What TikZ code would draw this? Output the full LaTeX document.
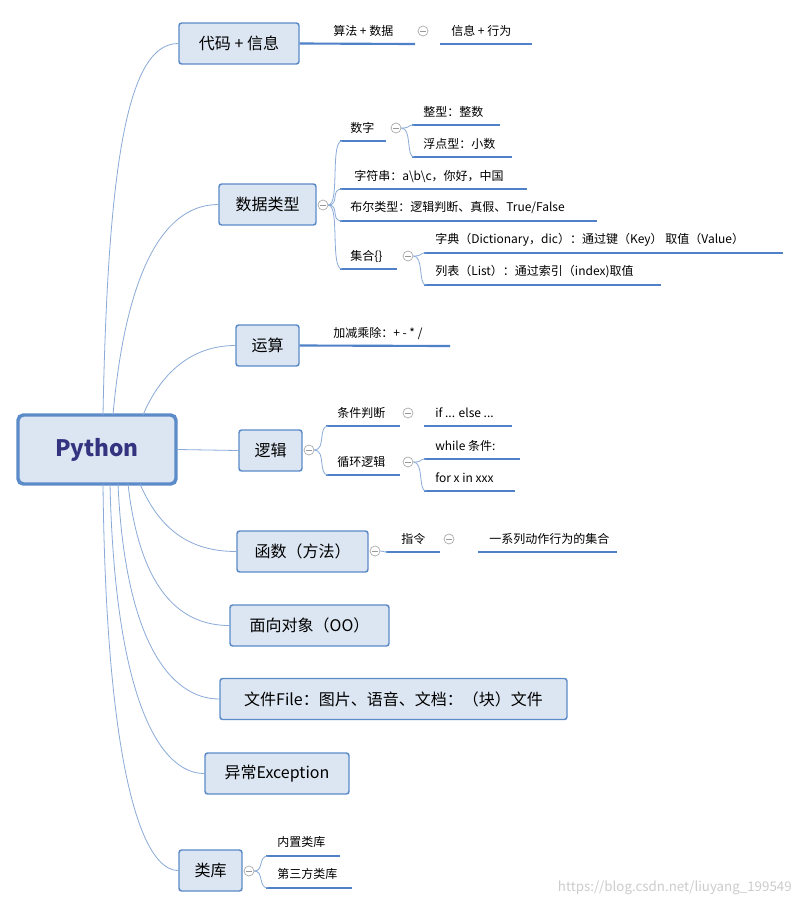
\documentclass[tikz,border=0pt]{standalone}
\usepackage{fontspec}
\setmainfont{Noto Sans CJK SC}
\begin{document}
\begin{tikzpicture}[x=0.75pt,y=-0.75pt,
  box/.style={draw=boxb,fill=boxf,line width=1.1pt,rounded corners=2pt,font=\fontsize{12}{14}\selectfont,inner sep=0pt},
  lf/.style={font=\fontsize{9}{11}\selectfont,inner sep=0pt,anchor=west},
  ul/.style={draw=ulc,line width=1.6pt},
  cn/.style={draw=cnc,line width=0.6pt},
  col/.style={circle,draw=gray!70,line width=0.5pt,minimum size=7.5pt,inner sep=0pt,fill=white,
    path picture={\draw[gray!80,line width=0.5pt] ([xshift=-2pt]path picture bounding box.center)--([xshift=2pt]path picture bounding box.center);}}]
\definecolor{boxf}{HTML}{DCE6F2}\definecolor{boxb}{HTML}{5B8BC9}
\definecolor{ulc}{HTML}{4F81C8}\definecolor{cnc}{HTML}{8AAAD8}
\useasboundingbox (0,0) rectangle (801,908);
\fill[white] (0,0) rectangle (801,908);
% root
\node[draw=boxb,fill=boxf,line width=2.6pt,rounded corners=4pt,minimum width=158*0.75pt,minimum height=69*0.75pt,
  font=\fontsize{17}{20}\selectfont\bfseries,text=black!50!blue!60!gray] (py) at (97,449.5) {Python};
% level 1
\newcommand\bx[6]{\node[box,minimum width=#3*0.75pt,minimum height=41*0.75pt] (#1) at (#2) {#4};}
\bx{b1}{239,43.5}{120}{代码 + 信息}{}{}
\bx{b2}{267.5,204.5}{97}{数据类型}{}{}
\bx{b3}{267.5,345.5}{63}{运算}{}{}
\bx{b4}{270.5,450.5}{63}{逻辑}{}{}
\bx{b5}{302.5,551.5}{131}{函数（方法）}{}{}
\bx{b6}{309.5,625.5}{159}{面向对象（OO）}{}{}
\bx{b7}{393.5,699}{347}{文件File：图片、语音、文档：（块）文件}{}{}
\bx{b8}{277,773.5}{144}{异常Exception}{}{}
\bx{b9}{210.5,870.5}{63}{类库}{}{}
% root connectors
\coordinate (r1) at (103,415);\coordinate (r2) at (113,415);\coordinate (r3) at (143,415);
\coordinate (r5) at (140,484);\coordinate (r6) at (128,484);\coordinate (r7) at (118,484);
\coordinate (r8) at (110,484);\coordinate (r9) at (103,484);
\draw[cn] (r1) .. controls (108,150) and (130,43.5) .. (b1.west);
\draw[cn] (r2) .. controls (125,280) and (160,204.5) .. (b2.west);
\draw[cn] (r3) .. controls (160,375) and (190,345.5) .. (b3.west);
\draw[cn] (py.east) -- (b4.west);
\draw[cn] (r5) .. controls (160,530) and (190,551.5) .. (b5.west);
\draw[cn] (r6) .. controls (140,590) and (180,625.5) .. (b6.west);
\draw[cn] (r7) .. controls (125,640) and (170,699) .. (b7.west);
\draw[cn] (r8) .. controls (115,700) and (160,773.5) .. (b8.west);
\draw[cn] (r9) .. controls (106,760) and (140,870.5) .. (b9.west);
% --- 代码
\node[lf] (a1) at (333,31) {算法 + 数据};
\node[col] (c1) at (423,31) {};
\node[lf] (a2) at (451,31) {信息 + 行为};
\draw[ul] (b1.east) -- (415,44);
\draw[ul] (440,44) -- (532,44);
% --- 数据类型
\node[col] (c2) at (323,205) {};
\node[lf] (d1) at (350,128) {数字};
\node[col] (c3) at (396,128) {};
\node[lf] (d11) at (423,112) {整型：整数};
\node[lf] (d12) at (423,144) {浮点型：小数};
\node[lf] (d2) at (354,176) {字符串：a\textbackslash b\textbackslash c，你好，中国};
\node[lf] (d3) at (350,208) {布尔类型：逻辑判断、真假、True/False};
\node[lf] (d4) at (350,256) {集合\{\}};
\node[col] (c4) at (408,256) {};
\node[lf] (d41) at (435,240) {字典（Dictionary，dic）：通过键（Key） 取值（Value）};
\node[lf] (d42) at (435,272) {列表（List）：通过索引（index)取值};
\draw[ul] (340,141)--(386,141); \draw[ul] (412,125)--(500,125); \draw[ul] (412,157)--(512,157);
\draw[ul] (340,189)--(527,189); \draw[ul] (340,221)--(597,221); \draw[ul] (340,269)--(397,269);
\draw[ul] (424,253)--(783,253); \draw[ul] (424,285)--(661,285);
\draw[cn] (c2.east) .. controls (340,205) and (330,141) .. (342,141);
\draw[cn] (c2.east) .. controls (340,205) and (330,189) .. (342,189);
\draw[cn] (c2.east) .. controls (340,205) and (330,221) .. (342,221);
\draw[cn] (c2.east) .. controls (340,205) and (330,269) .. (342,269);
\draw[cn] (c3.east) .. controls (412,128) and (406,125) .. (414,125);
\draw[cn] (c3.east) .. controls (412,128) and (406,157) .. (414,157);
\draw[cn] (c4.east) .. controls (424,256) and (418,253) .. (426,253);
\draw[cn] (c4.east) .. controls (424,256) and (418,285) .. (426,285);
% --- 运算
\node[lf] (e1) at (333,333) {加减乘除：+ - * /};
\draw[ul] (b3.east) -- (450,346);
% --- 逻辑
\node[col] (c5) at (309,450) {};
\node[lf] (f1) at (337,413) {条件判断};
\node[col] (c6) at (408,413) {};
\node[lf] (f11) at (435,413) {if ... else ...};
\node[lf] (f2) at (337,462) {循环逻辑};
\node[col] (c7) at (408,462) {};
\node[lf] (f21) at (435,446) {while 条件:};
\node[lf] (f22) at (435,478) {for x in xxx};
\draw[ul] (326,426)--(400,426); \draw[ul] (424,426)--(512,426);
\draw[ul] (326,475)--(400,475); \draw[ul] (424,459)--(520,459); \draw[ul] (424,491)--(515,491);
\draw[cn] (c5.east) .. controls (326,450) and (318,426) .. (328,426);
\draw[cn] (c5.east) .. controls (326,450) and (318,475) .. (328,475);
\draw[cn] (c7.east) .. controls (424,462) and (418,459) .. (426,459);
\draw[cn] (c7.east) .. controls (424,462) and (418,491) .. (426,491);
% --- 函数
\node[col] (c8) at (375,551) {};
\node[lf] (g1) at (401,539) {指令};
\node[col] (c9) at (449,539) {};
\node[lf] (g2) at (489,539) {一系列动作行为的集合};
\draw[ul] (386,552)--(440,552); \draw[ul] (478,552)--(617,552);
\draw[cn] (c8.east) .. controls (384,551) and (382,552) .. (388,552);
% --- 类库
\node[col] (c10) at (249,871) {};
\node[lf] (h1) at (277,842) {内置类库};
\node[lf] (h2) at (277,874) {第三方类库};
\draw[ul] (266,856)--(340,856); \draw[ul] (266,888)--(352,888);
\draw[cn] (c10.east) .. controls (264,871) and (258,856) .. (268,856);
\draw[cn] (c10.east) .. controls (264,871) and (258,888) .. (268,888);
% watermark
\node[font=\fontsize{10}{12}\selectfont,text=gray!40,anchor=east,inner sep=0pt] (wm) at (792,888) {https://blog.csdn.net/liuyang\_199549};
\end{tikzpicture}
\end{document}
